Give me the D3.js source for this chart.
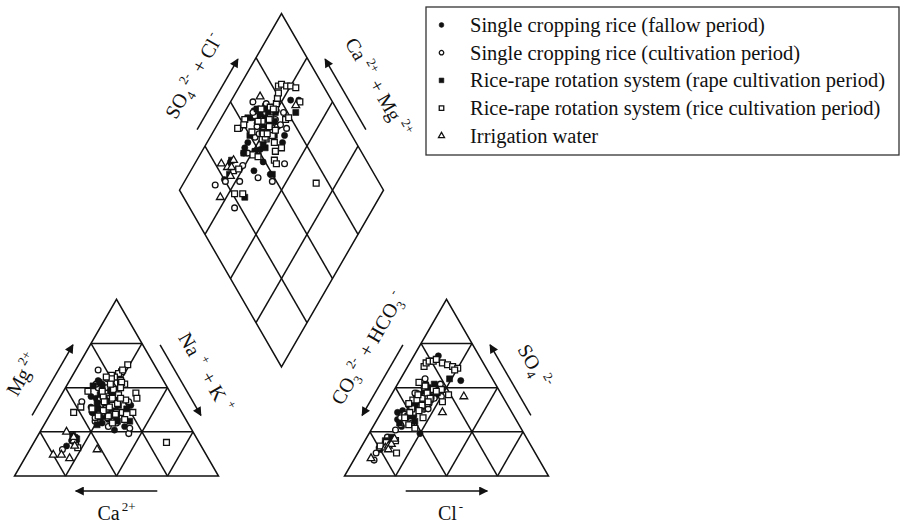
<!DOCTYPE html>
<html>
<head>
<meta charset="utf-8">
<script src="https://cdn.jsdelivr.net/npm/d3@7"></script>
<style>
    body { margin: 0; background: #fff; }
    svg text { font-family: "Liberation Serif", "Times New Roman", serif; fill: #111; }
</style>
</head>
<body>
<svg id="chart" width="901" height="531"></svg>
<script>
// one row per sample: [Mg2+, Na+ + K+, SO4 2-, Cl-] in % meq/L
// Ca2+ and CO3 2- + HCO3- are what is left to 100
let fallowPeriod = [
    [38, 29, 68, 12], [35, 33, 54, 30], [42, 20, 36, 8], [28, 40, 24, 25],
    [37, 31, 28, 14], [34, 33, 33, 16], [20, 18, 19, 12], [22, 19, 15, 10],
    [17, 17, 20, 13], [48, 12, 40, 12], [45, 15, 42, 14], [52, 17, 46, 12],
    [54, 14, 44, 15], [38, 24, 48, 16], [33, 26, 38, 20], [30, 28, 34, 17],
    [44, 18, 52, 14], [41, 21, 32, 10], [36, 20, 37, 10], [46, 25, 50, 20],
    [26, 36, 45, 22], [40, 22, 45, 17], [47, 19, 41, 16], [35, 27, 44, 14],
    [43, 23, 39, 20], [39, 18, 47, 12], [32, 30, 42, 19], [50, 21, 48, 15],
    [40, 37, 43, 21]
]

let cultivationPeriod = [
    [60, 11, 45, 16], [40, 23, 33, 11], [24, 44, 40, 19], [30, 35, 29, 13],
    [27, 43, 31, 17], [35, 27, 22, 10], [28, 32, 13, 9], [15, 16, 9, 10],
    [19, 20, 16, 9], [50, 20, 50, 14], [45, 27, 47, 20], [42, 24, 40, 18],
    [55, 18, 55, 12], [38, 30, 44, 22], [47, 22, 36, 16], [33, 29, 52, 21],
    [43, 26, 30, 18], [50, 16, 38, 20], [31, 24, 26, 12], [42, 35, 45, 25],
    [44, 20, 43, 13], [36, 26, 46, 18], [48, 24, 41, 21], [40, 29, 38, 22],
    [33, 23, 40, 15], [52, 14, 47, 11], [37, 31, 49, 19], [42, 12, 35, 12]
]

let rapeCultivation = [
    [31, 35, 55, 24], [31, 41, 31, 19], [32, 34, 20, 10], [21, 20, 18, 11],
    [23, 17, 22, 12], [53, 15, 46, 15], [51, 13, 41, 13], [44, 22, 44, 18],
    [37, 27, 49, 17], [40, 31, 43, 19], [34, 30, 39, 15], [46, 19, 36, 14],
    [39, 25, 47, 22], [29, 26, 34, 14], [48, 23, 52, 18], [36, 21, 30, 12],
    [42, 24, 42, 15], [38, 22, 45, 20], [45, 27, 39, 17], [35, 28, 41, 13],
    [50, 18, 44, 17], [41, 20, 50, 16], [38, 36, 40, 18]
]

let riceCultivation = [
    [63, 24, 62, 8], [59, 23, 64, 8], [58, 22, 65, 9], [56, 21, 65, 11],
    [57, 19, 66, 12], [55, 20, 64, 16], [60, 23, 63, 19], [54, 25, 62, 22],
    [52, 28, 61, 25], [19, 65, 42, 27], [36, 34, 60, 24], [32, 38, 33, 22],
    [36, 32, 19, 11], [40, 28, 17, 9], [18, 21, 13, 19], [16, 23, 20, 15],
    [48, 12, 38, 14], [39, 13, 36, 14], [38, 26, 29, 17], [34, 29, 27, 21],
    [49, 24, 51, 14], [44, 26, 45, 17], [52, 21, 49, 19], [41, 30, 41, 20],
    [35, 32, 49, 23], [46, 28, 38, 19], [30, 33, 44, 16], [56, 17, 53, 10],
    [43, 33, 46, 28], [47, 36, 40, 18], [53, 26, 43, 12], [38, 19, 41, 11],
    [45, 21, 44, 16], [39, 27, 43, 14], [42, 23, 48, 21], [37, 25, 39, 18],
    [50, 27, 46, 13], [34, 24, 47, 17], [44, 30, 44, 20], [48, 19, 40, 18],
    [44, 38, 42, 20], [36, 40, 37, 18], [36, 11, 33, 13]
]

let irrigationWater = [
    [12, 13, 16, 12], [12, 17, 17, 13], [20, 19, 18, 14], [17, 21, 15, 14],
    [22, 18, 21, 14], [15, 33, 45, 36], [25, 13, 36, 30], [10, 22, 10, 8]
]

let seriesNames = [
    "Single cropping rice (fallow period)",
    "Single cropping rice (cultivation period)",
    "Rice-rape rotation system (rape cultivation period)",
    "Rice-rape rotation system (rice cultivation period)",
    "Irrigation water"
]

let gridTicks = [25, 50, 75]


let svg = d3.select("#chart"),
    side = 204,
    height = side * Math.sqrt(3) / 2,
    baseY = 476,
    leftX = 14.5,
    rightX = 344.5,
    bottomX = (leftX + side + rightX) / 2,
    bottomY = baseY - (rightX - leftX - side) / 2 * Math.sqrt(3)

let cationX = d3.scaleLinear().domain([0, 100]).range([leftX, leftX + side]),
    anionX = d3.scaleLinear().domain([0, 100]).range([rightX, rightX + side]),
    triY = d3.scaleLinear().domain([0, 100]).range([baseY, baseY - height]),
    diamondX = d3.scaleLinear().domain([-100, 100]).range([bottomX - side / 2, bottomX + side / 2]),
    diamondY = d3.scaleLinear().domain([0, 200]).range([bottomY, bottomY - 2 * height])

function cationPoint(mg, nak) {
    return [cationX(nak + mg / 2), triY(mg)]
}

function anionPoint(so4, cl) {
    return [anionX(cl + so4 / 2), triY(so4)]
}

function diamondPoint(so4cl, camg) {
    return [diamondX(so4cl - camg), diamondY(so4cl + camg)]
}

let line = d3.line(),
    frame = svg.append("g")
        .attr("fill", "none")
        .attr("stroke", "#111")
        .attr("stroke-width", 1.5)
        .attr("stroke-linejoin", "miter")


// outlines
let cationCorners = [cationPoint(0, 0), cationPoint(0, 100), cationPoint(100, 0)],
    anionCorners = [anionPoint(0, 0), anionPoint(0, 100), anionPoint(100, 0)],
    diamondCorners = [diamondPoint(0, 0), diamondPoint(100, 0), diamondPoint(100, 100), diamondPoint(0, 100)]

frame.append("path").attr("d", line(cationCorners) + "Z")
frame.append("path").attr("d", line(anionCorners) + "Z")
frame.append("path").attr("d", line(diamondCorners) + "Z")


// grid lines, every 25 %
gridTicks.forEach(function(v) {
    frame.append("path").attr("d", line([cationPoint(v, 0), cationPoint(v, 100 - v)]))
    frame.append("path").attr("d", line([cationPoint(0, v), cationPoint(100 - v, v)]))
    frame.append("path").attr("d", line([cationPoint(0, 100 - v), cationPoint(100 - v, 0)]))

    frame.append("path").attr("d", line([anionPoint(v, 0), anionPoint(v, 100 - v)]))
    frame.append("path").attr("d", line([anionPoint(0, v), anionPoint(100 - v, v)]))
    frame.append("path").attr("d", line([anionPoint(0, 100 - v), anionPoint(100 - v, 0)]))

    frame.append("path").attr("d", line([diamondPoint(v, 0), diamondPoint(v, 100)]))
    frame.append("path").attr("d", line([diamondPoint(0, v), diamondPoint(100, v)]))
})


// arrows and axis titles
svg.append("defs").append("marker")
    .attr("id", "arrow")
    .attr("viewBox", "0 0 10 10")
    .attr("refX", 9)
    .attr("refY", 5)
    .attr("markerUnits", "userSpaceOnUse")
    .attr("markerWidth", 11)
    .attr("markerHeight", 9)
    .attr("orient", "auto")
    .append("path")
    .attr("d", "M0,0L10,5L0,10Z")
    .attr("fill", "#111")

function along(p, q, t, offset, center) {
    let dx = q[0] - p[0],
        dy = q[1] - p[1],
        len = Math.hypot(dx, dy),
        nx = dy / len,
        ny = -dx / len,
        x = p[0] + t * dx,
        y = p[1] + t * dy

    // turn the normal away from the shape
    if ((x - center[0]) * nx + (y - center[1]) * ny < 0) {
        nx = -nx
        ny = -ny
    }

    return [x + nx * offset, y + ny * offset]
}

function edgeArrow(p, q, center) {
    svg.append("path")
        .attr("d", line([along(p, q, 0.3, 15, center), along(p, q, 0.7, 15, center)]))
        .attr("stroke", "#111")
        .attr("stroke-width", 1.5)
        .attr("fill", "none")
        .attr("marker-end", "url(#arrow)")
}

function label(parts, position, angle) {
    let text = svg.append("text")
            .attr("transform", "translate(" + position[0] + "," + position[1] + ") rotate(" + angle + ")")
            .attr("text-anchor", "middle")
            .attr("font-size", 20),
        shift = 0

    parts.forEach(function(part) {
        let target = part.sub ? 5 : part.sup ? -9 : 0

        text.append("tspan")
            .attr("dy", target - shift)
            .attr("dx", part.dx || 0)
            .attr("font-size", part.sub || part.sup ? 13 : 20)
            .text(part.t)

        shift = target
    })

    return text
}

let cationCenter = cationPoint(33.3, 33.3),
    anionCenter = anionPoint(33.3, 33.3),
    diamondCenter = diamondPoint(50, 50)

edgeArrow(cationPoint(0, 0), cationPoint(100, 0), cationCenter)
edgeArrow(cationPoint(100, 0), cationPoint(0, 100), cationCenter)
edgeArrow(cationPoint(0, 100), cationPoint(0, 0), cationCenter)

edgeArrow(anionPoint(100, 0), anionPoint(0, 0), anionCenter)
edgeArrow(anionPoint(0, 100), anionPoint(100, 0), anionCenter)
edgeArrow(anionPoint(0, 0), anionPoint(0, 100), anionCenter)

edgeArrow(diamondPoint(0, 100), diamondPoint(100, 100), diamondCenter)
edgeArrow(diamondPoint(100, 0), diamondPoint(100, 100), diamondCenter)

label([{t: "Mg"}, {t: "2+", sup: true, dx: 3}],
    along(cationPoint(0, 0), cationPoint(100, 0), 0.45, 37, cationCenter), -60)
label([{t: "Na"}, {t: "+", sup: true, dx: 6}, {t: " + K", dx: 3}, {t: "+", sup: true, dx: 6}],
    along(cationPoint(100, 0), cationPoint(0, 100), 0.53, 34, cationCenter), 60)
label([{t: "Ca"}, {t: "2+", sup: true, dx: 2}],
    along(cationPoint(0, 100), cationPoint(0, 0), 0.5, 44, cationCenter), 0)

label([{t: "CO"}, {t: "3", sub: true}, {t: "2-", sup: true, dx: 3}, {t: " + HCO", dx: 2}, {t: "3", sub: true}, {t: "-", sup: true, dx: 2}],
    along(anionPoint(0, 0), anionPoint(100, 0), 0.6, 37, anionCenter), -60)
label([{t: "SO"}, {t: "4", sub: true}, {t: "2-", sup: true, dx: 4}],
    along(anionPoint(0, 100), anionPoint(100, 0), 0.5, 36, anionCenter), 60)
label([{t: "Cl"}, {t: "-", sup: true, dx: 2}],
    along(anionPoint(0, 0), anionPoint(0, 100), 0.52, 44, anionCenter), 0)

label([{t: "SO"}, {t: "4", sub: true}, {t: "2-", sup: true, dx: 3}, {t: " + Cl", dx: 2}, {t: "-", sup: true, dx: 2}],
    along(diamondPoint(0, 100), diamondPoint(100, 100), 0.52, 38, diamondCenter), -60)
label([{t: "Ca"}, {t: "2+", sup: true, dx: 5}, {t: " + Mg", dx: 2}, {t: "2+", sup: true, dx: 5}],
    along(diamondPoint(100, 0), diamondPoint(100, 100), 0.45, 40, diamondCenter), 60)


// samples
let allSeries = [fallowPeriod, cultivationPeriod, rapeCultivation, riceCultivation, irrigationWater],
    symbolTypes = [d3.symbolCircle, d3.symbolCircle, d3.symbolSquare, d3.symbolSquare, d3.symbolTriangle],
    symbolSizes = [30, 26, 36, 34, 26],
    symbolFilled = [true, false, true, false, false]

function marker(selection, i, scale) {
    return selection.append("path")
        .attr("d", d3.symbol().type(symbolTypes[i]).size(symbolSizes[i] * (scale || 1)))
        .attr("fill", symbolFilled[i] ? "#111" : "#fff")
        .attr("stroke", "#111")
        .attr("stroke-width", symbolFilled[i] ? 0.6 : 1.3)
}

allSeries.forEach(function(samples, i) {
    let group = svg.append("g")

    samples.forEach(function(d) {
        let mg = d[0], nak = d[1], so4 = d[2], cl = d[3],
            positions = [cationPoint(mg, nak), anionPoint(so4, cl), diamondPoint(so4 + cl, 100 - nak)]

        positions.forEach(function(p) {
            marker(group, i).attr("transform", "translate(" + p[0] + "," + p[1] + ")")
        })
    })
})


// legend
let legend = svg.append("g").attr("transform", "translate(426,7)")

legend.append("rect")
    .attr("width", 473)
    .attr("height", 148)
    .attr("fill", "#fff")
    .attr("stroke", "#333")
    .attr("stroke-width", 1.3)

seriesNames.forEach(function(name, i) {
    let y = 18 + i * 27.7

    marker(legend, i, 0.6).attr("transform", "translate(15.5," + y + ")")

    legend.append("text")
        .attr("x", 44)
        .attr("y", y + 7)
        .attr("font-size", 20.5)
        .text(name)
})
</script>
</body>
</html>
